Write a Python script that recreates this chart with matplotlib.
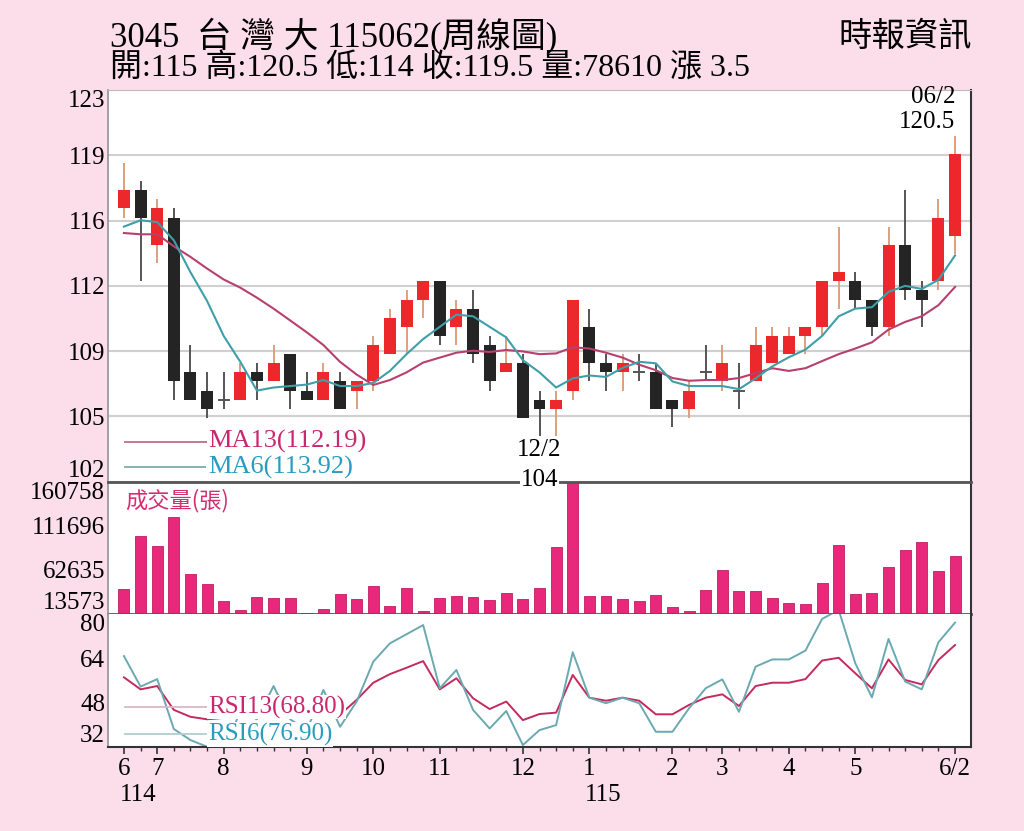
import numpy as np
import matplotlib
matplotlib.use('Agg')
import matplotlib.pyplot as plt
from matplotlib.ticker import FixedLocator, NullLocator

plt.rcParams['font.family'] = ['Liberation Serif', 'Noto Sans CJK TC', 'DejaVu Sans']

# weekly candles, 114/06 .. 115/06/2
opens = [116.5, 117.5, 114.5, 116, 107.5, 106.5, 106, 106, 107.5, 107,
         108.5, 106.5, 106, 107, 106.5, 107, 108.5, 110, 111.5, 112.5,
         110, 111, 109, 107.5, 108, 106, 105.5, 106.5, 110, 108,
         107.5, 107.5, 107.5, 106, 105.5, 107.5, 107, 106.5, 107, 108,
         108.5, 109.5, 110, 112.5, 112.5, 111.5, 110, 114.5, 112, 112.5, 115]
highs = [119, 118, 117, 116.5, 109, 107.5, 107.5, 108, 108, 109,
         108.5, 107.5, 108, 107.5, 107, 109.5, 111, 112, 112.5, 112.5,
         111.5, 112, 109.5, 109.5, 108.5, 106.5, 106.5, 111.5, 111, 108.5,
         108.5, 108.5, 108, 106, 107, 109, 109, 108, 110, 110,
         110, 110, 112.5, 115.5, 113, 111.5, 115.5, 117.5, 112.5, 117, 120.5]
lows = [116, 112.5, 113.5, 106, 106, 105, 105.5, 106, 106, 107,
        105.5, 106, 106, 105.5, 105.5, 106.5, 108.5, 108.5, 110.5, 109,
        109, 108, 106.5, 107.5, 105, 104, 104, 106, 107, 106.5,
        106.5, 107, 105.5, 104.5, 105, 107, 106.5, 105.5, 107, 108,
        108.5, 108.5, 109.5, 111, 111, 109.5, 109.5, 111.5, 110, 112, 114]
closes = [117.5, 116, 116.5, 107, 106, 105.5, 106, 107.5, 107, 108,
          106.5, 106, 107.5, 105.5, 107, 109, 110.5, 111.5, 112.5, 109.5,
          111, 108.5, 107, 108, 105, 105.5, 106, 111.5, 108, 107.5,
          108, 107.5, 105.5, 105.5, 106.5, 107.5, 108, 106.5, 109, 109.5,
          109.5, 110, 112.5, 113, 111.5, 110, 114.5, 112, 111.5, 116, 119.5]

ma6 = [115.5, 115.85, 115.75, 114.75, 113.0, 111.42, 109.5, 108.08, 106.5, 106.67,
       106.75, 106.83, 107.08, 106.75, 106.75, 106.92, 107.58, 108.5, 109.33, 110.0,
       110.67, 110.58, 110.0, 109.42, 108.17, 107.5, 106.67, 107.17, 107.33, 107.25,
       107.75, 108.08, 108.0, 107.0, 106.75, 106.75, 106.75, 106.58, 107.17, 107.83,
       108.33, 108.75, 109.5, 110.58, 111.0, 111.08, 111.92, 112.25, 112.08, 112.58, 113.92]
ma13 = [115.15, 115.08, 115.08, 114.42, 113.84, 113.2, 112.6, 112.15, 111.6, 111.0,
        110.35, 109.7, 109.0, 108.08, 107.38, 106.81, 107.08, 107.5, 108.04, 108.31,
        108.58, 108.69, 108.62, 108.73, 108.65, 108.5, 108.54, 108.88, 108.81, 108.58,
        108.31, 107.92, 107.62, 107.19, 107.04, 107.08, 107.08, 107.19, 107.46, 107.73,
        107.58, 107.73, 108.12, 108.5, 108.81, 109.15, 109.85, 110.27, 110.58, 111.19, 112.19]

volume = [41050, 100680, 89560, 121150, 57740, 46610, 28370, 18020, 32150, 31040,
          31370, 15020, 19470, 36150, 29920, 45050, 22800, 42160, 16910, 31370,
          33260, 32480, 28810, 37270, 30590, 42830, 88110, 160758, 33930, 33930,
          30590, 27700, 34370, 21690, 16910, 40600, 62520, 38820, 38820, 31700,
          26140, 25030, 47720, 90000, 35820, 37270, 66190, 84770, 93670, 61740, 78610]

rsi13 = [57.15, 52.8, 54.0, 45.4, 42.9, 42.0, 42.5, 45.0, 44.5, 47.0,
         44.5, 43.5, 46.5, 43.7, 49.0, 55.2, 58.3, 60.6, 63.0, 52.8,
         56.8, 49.6, 45.7, 48.4, 41.7, 43.9, 44.4, 58.0, 49.8, 48.7,
         49.8, 48.7, 43.8, 43.8, 47.2, 49.8, 51.0, 46.8, 54.0, 55.2,
         55.2, 56.5, 63.2, 64.2, 58.6, 53.2, 63.6, 56.2, 54.6, 63.4, 68.8]
rsi6 = [64.8, 53.8, 56.5, 38.5, 34.5, 32.1, 30.0, 45.0, 42.0, 54.0,
        42.0, 38.0, 52.6, 39.3, 48.4, 62.8, 69.4, 72.7, 76.0, 53.2,
        59.8, 45.4, 38.7, 45.0, 32.7, 38.1, 39.9, 66.2, 49.8, 47.8,
        49.8, 47.8, 37.5, 37.5, 46.0, 53.2, 56.4, 44.7, 61.0, 63.6,
        63.6, 66.8, 78.2, 81.5, 62.2, 49.9, 71.0, 55.6, 52.8, 69.8, 76.9]

month_idx = [0, 2, 6, 11, 15, 19, 24, 28, 33, 36, 40, 44, 50]
month_labels = ['6', '7', '8', '9', '10', '11', '12', '1', '2', '3', '4', '5', '6/2']
year_marks = [(0, '114'), (28, '115')]

price_ticks = [101.5, 105.08, 108.67, 112.25, 115.83, 119.42, 123.0]
price_labels = ['102', '105', '109', '112', '116', '119', '123']
vol_ticks = [13573, 62635, 111696, 160758]
rsi_ticks = [32, 48, 64, 80]

BG = '#fbdee9'
RED = '#ec282c'
BLACK = '#242424'
PINK = '#e8287a'

fig = plt.figure(figsize=(10.24, 8.31), dpi=100, facecolor=BG)
L, W = 108 / 1024, 863 / 1024


def box(top, bottom):
    return [L, 1 - bottom / 831, W, (bottom - top) / 831]


ax_p = fig.add_axes(box(90, 481.7))
ax_v = fig.add_axes(box(481.7, 614))
ax_r = fig.add_axes(box(614, 747))
ax_p.set_zorder(3)

x = np.arange(len(closes))
o, h, l, c = (np.array(a, dtype=float) for a in (opens, highs, lows, closes))
up = c > o
dn = c < o
flat = c == o

# price panel
ax_p.vlines(x[up], l[up], h[up], color='#dfa07c', lw=1.4, zorder=2)
ax_p.vlines(x[~up], l[~up], h[~up], color='#555555', lw=1.4, zorder=2)
ax_p.bar(x[up], (c - o)[up], bottom=o[up], width=0.72, color=RED, zorder=3)
ax_p.bar(x[dn], (o - c)[dn], bottom=c[dn], width=0.72, color=BLACK, zorder=3)
ax_p.hlines(c[flat], x[flat] - 0.36, x[flat] + 0.36, color='#555555', lw=1.4, zorder=3)
ax_p.plot(x, ma13, color='#b8406e', lw=1.5, zorder=4)
ax_p.plot(x, ma6, color='#3f9fa8', lw=1.5, zorder=4)

ax_p.set_xlim(-0.96, 50.96)
ax_p.set_ylim(101.5, 123.0)
ax_p.set_yticks(price_ticks)
ax_p.set_yticklabels(price_labels)
ax_p.grid(axis='y', color='#d0d0d0', lw=1.5)
ax_p.set_axisbelow(True)
ax_p.xaxis.set_major_locator(NullLocator())

ax_p.plot([0.0197, 0.1147], [0.1021, 0.1021], transform=ax_p.transAxes, color='#c46a92', lw=1.3)
ax_p.text(0.1159, 0.1021, 'MA13(112.19)', transform=ax_p.transAxes, color='#c8286e',
          fontsize=19, ha='left', va='center', zorder=6,
          bbox=dict(fc='white', ec='none', pad=0.5))
ax_p.plot([0.0197, 0.1147], [0.0363, 0.0363], transform=ax_p.transAxes, color='#7fa9b2', lw=1.3)
ax_p.text(0.1159, 0.0363, 'MA6(113.92)', transform=ax_p.transAxes, color='#2a9cbf',
          fontsize=19, ha='left', va='center', zorder=6, clip_on=False,
          bbox=dict(fc='white', ec='none', pad=1.5))

ax_p.text(50, 122.64, '06/2', ha='right', va='center', fontsize=18, clip_on=False, zorder=6)
ax_p.text(50, 121.24, '120.5', ha='right', va='center', fontsize=18, clip_on=False, zorder=6)
ax_p.text(25, 103.26, '12/2', ha='center', va='center', fontsize=18, zorder=6)
ax_p.text(25, 101.62, '104', ha='center', va='center', fontsize=18, clip_on=False, zorder=6,
          bbox=dict(fc='white', ec='none', pad=0.5))

# volume panel
ax_v.bar(x, volume, width=0.66, color=PINK, edgecolor='#c01e62', lw=0.6)
ax_v.set_xlim(-0.96, 50.96)
ax_v.set_ylim(13573, 160758)
ax_v.set_yticks(vol_ticks)
ax_v.set_yticklabels([str(v) for v in vol_ticks])
ax_v.xaxis.set_major_locator(NullLocator())
ax_v.text(0.0197, 0.855, '成交量(張)', transform=ax_v.transAxes, color='#d42e6e',
          fontsize=16, ha='left', va='center', family=['Noto Sans CJK TC'])

# rsi panel
ax_r.plot(x, rsi13, color='#c42a5e', lw=1.4, zorder=2)
ax_r.plot(x, rsi6, color='#6aa9b2', lw=1.4, zorder=2)
ax_r.set_xlim(-0.96, 50.96)
ax_r.set_ylim(32, 80)
ax_r.set_yticks(rsi_ticks)
ax_r.set_yticklabels([str(v) for v in rsi_ticks])
ax_r.plot([0.0197, 0.1147], [0.30, 0.30], transform=ax_r.transAxes, color='#dcb8c6', lw=1.3, zorder=3)
ax_r.text(0.1159, 0.30, 'RSI13(68.80)', transform=ax_r.transAxes, color='#c8286e',
          fontsize=18, ha='left', va='center', zorder=6,
          bbox=dict(fc='white', ec='none', pad=0.5))
ax_r.plot([0.0197, 0.1147], [0.094, 0.094], transform=ax_r.transAxes, color='#b4ccd2', lw=1.3, zorder=3)
ax_r.text(0.1159, 0.094, 'RSI6(76.90)', transform=ax_r.transAxes, color='#2a9cbf',
          fontsize=18, ha='left', va='center', zorder=6,
          bbox=dict(fc='white', ec='none', pad=0.5))

ax_r.xaxis.set_major_locator(FixedLocator(month_idx))
ax_r.xaxis.set_minor_locator(FixedLocator(x))
ax_r.set_xticklabels(month_labels)
ax_r.tick_params(axis='x', which='major', length=5, width=1.2, color='#333333',
                 labelsize=18, pad=3)
ax_r.tick_params(axis='x', which='minor', length=3, width=1.0, color='#333333')
for xi, yl in year_marks:
    ax_r.text(xi - 0.25, -0.36, yl, transform=ax_r.get_xaxis_transform(),
              ha='left', va='center', fontsize=18)

for ax in (ax_p, ax_v, ax_r):
    ax.tick_params(axis='y', length=0, labelsize=18, pad=2)
    ax.spines['left'].set_color('#9a9a9a')
    ax.spines['left'].set_linewidth(1.3)
    ax.spines['right'].set_color('#333333')
    ax.spines['right'].set_linewidth(1.5)
    ax.spines['top'].set_color('#bbbbbb')
    ax.spines['bottom'].set_color('#555555')
    ax.spines['bottom'].set_linewidth(2)
    labels = ax.get_yticklabels()
    labels[0].set_va('bottom')
    labels[-1].set_va('top')
ax_v.spines['top'].set_visible(False)
ax_r.spines['top'].set_visible(False)
ax_r.spines['bottom'].set_color('#333333')
ax_r.spines['bottom'].set_linewidth(1.5)

fig.text(110 / 1024, 1 - 36 / 831, '3045  台 灣 大 115062(周線圖)', fontsize=25,
         ha='left', va='center')
fig.text(110 / 1024, 1 - 69 / 831, '開:115 高:120.5 低:114 收:119.5 量:78610 漲 3.5',
         fontsize=23, ha='left', va='center')
fig.text(972 / 1024, 1 - 37 / 831, '時報資訊', fontsize=24, ha='right', va='center')

fig.savefig('out.png', dpi=100, facecolor=BG)
